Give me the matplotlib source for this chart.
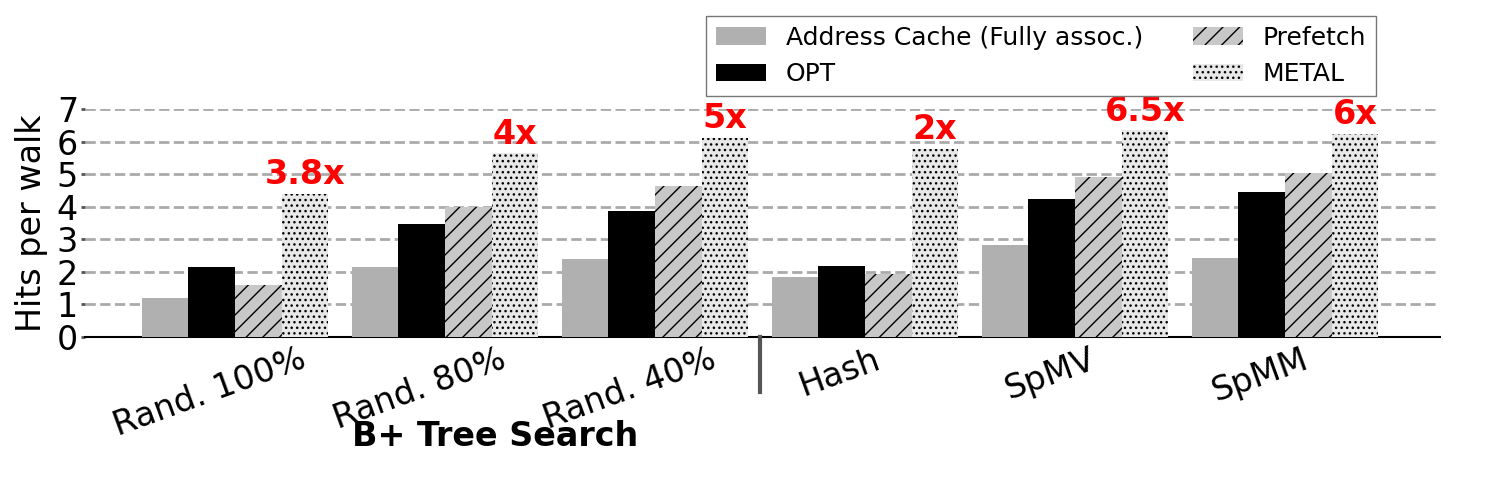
#!/usr/bin/env python3
"""Hits per walk: address cache vs OPT vs prefetch vs METAL."""
import matplotlib
matplotlib.use("Agg")
import matplotlib.pyplot as plt
import matplotlib.transforms as mtransforms
import numpy as np

categories = ["Rand. 100%", "Rand. 80%", "Rand. 40%", "Hash", "SpMV", "SpMM"]
series_names = ["Address Cache (Fully assoc.)", "OPT", "Prefetch", "METAL"]
addr_cache = [1.19, 2.14, 2.39, 1.83, 2.82, 2.42]
opt = [2.14, 3.46, 3.86, 2.17, 4.23, 4.45]
prefetch = [1.59, 4.00, 4.63, 1.94, 4.91, 5.05]
metal = [4.39, 5.64, 6.11, 5.78, 6.34, 6.24]
speedup_labels = ["3.8x", "4x", "5x", "2x", "6.5x", "6x"]
group_label = "B+ Tree Search"

colors = ["#b0b0b0", "#000000", "#c8c8c8", "#e8e8e8"]
hatches = [None, None, "//", "..."]

fig = plt.figure(figsize=(15, 5), dpi=100)
ax = fig.add_axes([0.0567, 0.326, 0.9033, 0.456])

x = np.arange(len(categories))
w = 0.222
off = 0.119
series = [addr_cache, opt, prefetch, metal]
for j, (vals, name) in enumerate(zip(series, series_names)):
    ax.bar(x + off + (j - 1.5) * w, vals, w, color=colors[j], hatch=hatches[j],
           edgecolor="black" if hatches[j] else colors[j], linewidth=0,
           label=name, zorder=3)

# speedup callouts above METAL bars
for xi, v, s in zip(x, metal, speedup_labels):
    ax.annotate(s, (xi + off + 1.5 * w, v), xytext=(0, 2), textcoords="offset points",
                ha="center", va="bottom", color="red", fontsize=24, fontweight="bold")

ax.set_ylim(0, 7)
ax.set_xlim(-0.595, 5.857)
ax.set_yticks(range(8))
ax.set_xticks(x)
ax.set_xticklabels(categories, rotation=20, ha="center")
ax.tick_params(axis="x", length=0, labelsize=24, pad=4)
ax.tick_params(axis="y", length=3, width=2, color="#555555", labelsize=24, pad=2)
ax.set_ylabel("Hits per walk", fontsize=24, labelpad=6)
ax.yaxis.grid(True, ls="--", lw=2, color="#aaaaaa", zorder=0)
ax.set_axisbelow(True)
for side in ["left", "top", "right"]:
    ax.spines[side].set_visible(False)
ax.spines["bottom"].set_linewidth(1.5)

# separator between B+ tree cases and the rest
trans = mtransforms.blended_transform_factory(ax.transData, ax.transAxes)
ax.plot([2.619, 2.619], [0, -0.241], transform=trans, color="#555555", lw=3,
        clip_on=False, zorder=5)
ax.text(1.357, -0.435, group_label, transform=trans, ha="center", va="center",
        fontsize=24, fontweight="bold")

leg = ax.legend(ncol=2, loc="lower right", bbox_to_anchor=(0.953, 1.057),
                borderaxespad=0, fontsize=18, fancybox=False, framealpha=1,
                edgecolor="#777777")
leg.get_frame().set_linewidth(1)

fig.savefig("out.png")
